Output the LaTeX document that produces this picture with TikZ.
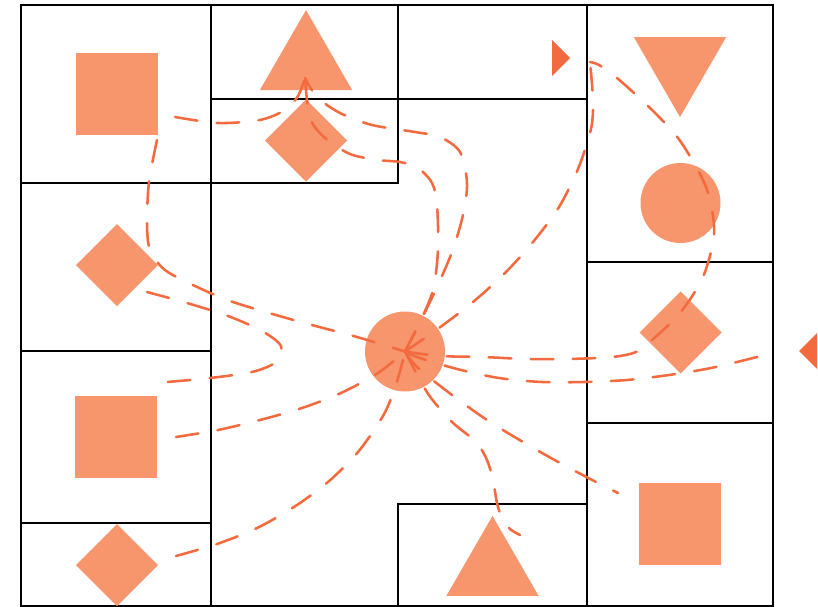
\documentclass[tikz,border=0pt]{standalone}
\usepackage{tikz}
\usetikzlibrary{shapes.geometric}
\definecolor{salmon}{RGB}{247,149,109}
\definecolor{coral}{RGB}{242,106,62}

\begin{document}
\begin{tikzpicture}[x=0.75pt, y=-0.75pt,
    cellbox/.style={draw=black, line width=0.9pt},
    blob/.style={fill=salmon, draw=none, inner sep=0pt, outer sep=0pt},
    sqblob/.style={blob, rectangle, minimum size=61.5pt},
    diablob/.style={blob, diamond, minimum size=61.5pt},
    dotblob/.style={blob, circle, minimum size=60pt},
    triblob/.style={blob, regular polygon, regular polygon sides=3, minimum size=80pt},
    linkline/.style={draw=coral, line width=1.9pt, line cap=round, dash pattern=on 17pt off 14.5pt}]
  \useasboundingbox (0,0) rectangle (818,607);

  % Cells
  \draw[cellbox] (21,5) rectangle (211,183);
  \draw[cellbox] (21,183) rectangle (211,351);
  \draw[cellbox] (21,351) rectangle (211,523);
  \draw[cellbox] (21,523) rectangle (211,606);
  \draw[cellbox] (211,5) rectangle (398,99);
  \draw[cellbox] (211,99) rectangle (398,183);
  \draw[cellbox] (398,5) rectangle (587,99);
  \draw[cellbox] (211,99) rectangle (587,606);
  \draw[cellbox] (398,504) rectangle (587,606);
  \draw[cellbox] (587,5) rectangle (773,262);
  \draw[cellbox] (587,262) rectangle (773,423);
  \draw[cellbox] (587,423) rectangle (773,606);

  % Shapes
  \node[sqblob] (sqTL) at (117,94) {};
  \node[triblob] (triT) at (306,63.5) {};
  \node[diablob] (diaT) at (306,140.5) {};
  \node[triblob, shape border rotate=180] (triR) at (680,63.7) {};
  \node[dotblob] (dotR) at (680.5,203) {};
  \node[diablob] (diaR) at (680.5,332.5) {};
  \node[sqblob] (sqBR) at (680,524) {};
  \node[triblob] (triB) at (492.5,569.3) {};
  \node[diablob] (diaL) at (117,265) {};
  \node[sqblob] (sqL) at (116,437) {};
  \node[diablob] (diaBL) at (117,565) {};
  \node[dotblob] (hub) at (405,351.5) {};

  % Ports
  \coordinate (tcusp) at (305,78);
  \coordinate (rcusp) at (590,62);
  \coordinate (sqTL-r) at (175,117);
  \coordinate (sqTL-b) at (157,140);
  \coordinate (diaL-r) at (147,292);
  \coordinate (sqL-t) at (167,382);
  \coordinate (sqL-r) at (176,437);
  \coordinate (diaBL-r) at (176,556);
  \coordinate (triB-r) at (520,535);
  \coordinate (sqBR-l) at (618,493);
  \coordinate (tipL-r) at (773,352);

  % Links
  \draw[linkline] plot[smooth] coordinates {(hub) (420,322) (433,290) (438,250) (437,205) (432,183) (418,168) (400,162) (378,160) (350,154) (325,138) (310,118) (tcusp)};
  \draw[linkline] plot[smooth] coordinates {(hub) (422,318) (437,287) (452,252) (463,215) (467,183) (460,152) (440,137) (415,132) (372,125) (340,113) (317,97) (tcusp)};
  \draw[linkline] plot[smooth] coordinates {(sqTL-r) (218,123) (260,120) (285,110) (298,96) (tcusp)};
  \draw[linkline] plot[smooth] coordinates {(sqTL-b) (149,182) (147,223) (150,250) (165,270) (195,286) (233,302) (297,321) (357,337) (hub)};
  \draw[linkline] plot[smooth] coordinates {(diaL-r) (187,303) (228,316) (262,331) (281,346) (276,362) (252,372) (210,378) (sqL-t)};
  \draw[linkline] plot[smooth] coordinates {(sqL-r) (218,430) (260,420) (302,408) (341,393) (378,373) (hub)};
  \draw[linkline] plot[smooth] coordinates {(diaBL-r) (217,544) (257,528) (294,507) (328,482) (358,452) (383,416) (396,385) (hub)};
  \draw[linkline] plot[smooth] coordinates {(hub) (439,328) (473,302) (505,273) (533,242) (559,207) (578,169) (591,129) (593,100) (rcusp)};
  \draw[linkline] plot[smooth] coordinates {(hub) (440,356) (483,357) (526,359) (568,359) (612,357) (636,352) (652,340) (680,313) (703,277) (714,235) (710,200) (700,174) (678,138) (649,107) (617,78) (599,65) (rcusp)};
  \draw[linkline] plot[smooth] coordinates {(hub) (420,380) (431,398) (452,422) (476,442) (487,460) (493,480) (497,503) (502,518) (510,529) (triB-r)};
  \draw[linkline] plot[smooth] coordinates {(hub) (418,368) (452,395) (487,420) (523,442) (560,463) (598,483) (sqBR-l)};
  \draw[linkline] plot[smooth] coordinates {(hub) (417,357) (457,369) (499,378) (542,382) (584,382) (627,380) (669,375) (711,368) (753,358) (tipL-r)};

  % Tips
  \fill[coral] (552,40) -- (570,58) -- (552,76) -- cycle;
  \fill[coral] (817,333) -- (799,351) -- (817,369) -- cycle;
\end{tikzpicture}
\end{document}
